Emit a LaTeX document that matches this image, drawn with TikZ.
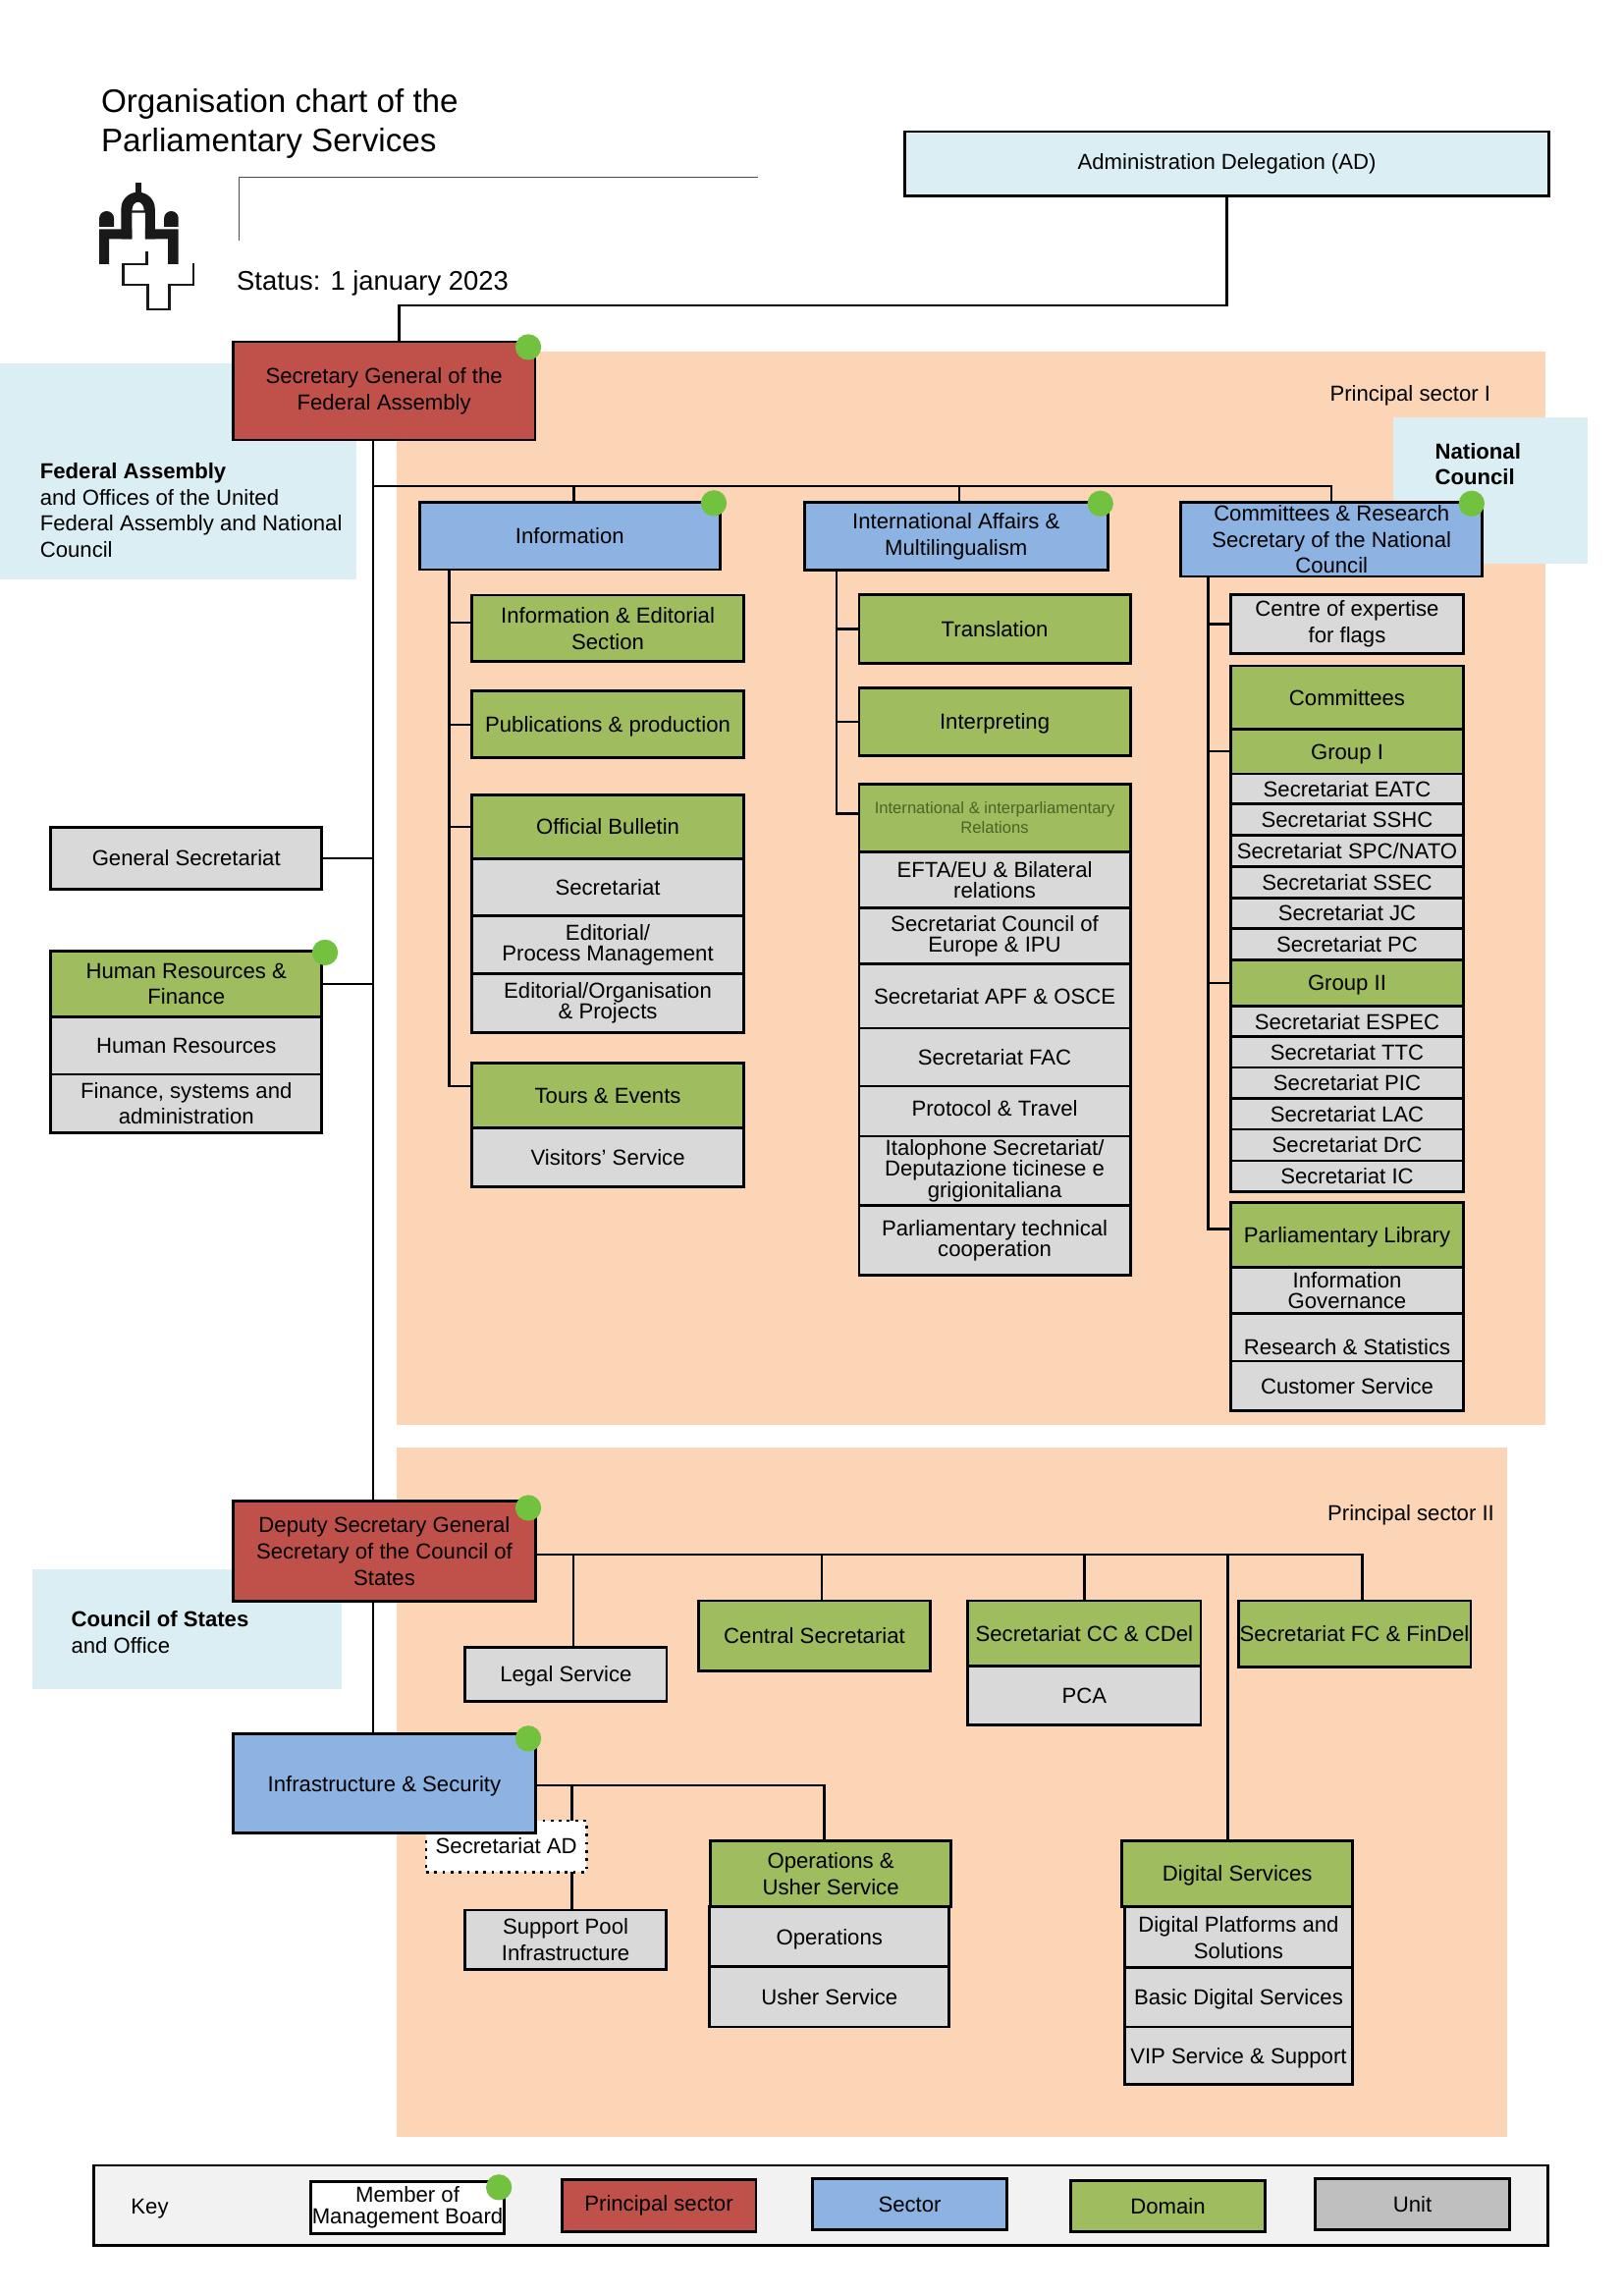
\documentclass[tikz,border=0pt]{standalone}
\usepackage{fontspec}
\setmainfont{Liberation Sans}
\definecolor{PeachClr}{HTML}{FBD5B5}
\definecolor{PaleClr}{HTML}{DAEEF3}
\definecolor{RedClr}{HTML}{C0504A}
\definecolor{BlueClr}{HTML}{8DB3E2}
\definecolor{GreenClr}{HTML}{9FBC5F}
\definecolor{GreyClr}{HTML}{D9D9D9}
\definecolor{DarkGreyClr}{HTML}{BFBFBF}
\definecolor{KeyClr}{HTML}{F2F2F2}
\definecolor{DotClr}{HTML}{72C13F}
\definecolor{SmallTxtClr}{HTML}{4F6228}
\tikzset{
  sz/.style 2 args={minimum width=#1*0.019cm,minimum height=#2*0.019cm},
  orgbox/.style={draw=black,line width=1pt,inner sep=0pt,outer sep=0pt,anchor=north west,
    align=center,font=\fontsize{8}{9.7}\selectfont},
  tight/.style={font=\fontsize{8}{7.7}\selectfont},
  oneline/.style={text height=5.8pt,text depth=0pt},
  adbox/.style={orgbox,fill=PaleClr},
  chiefbox/.style={orgbox,fill=RedClr},
  sectorbox/.style={orgbox,fill=BlueClr},
  domainbox/.style={orgbox,fill=GreenClr},
  unitbox/.style={orgbox,fill=GreyClr},
  member/.style={circle,fill=DotClr,inner sep=0pt,minimum size=17.6*0.019cm},
  caption/.style={inner sep=0pt,outer sep=0pt,anchor=north west,align=left,font=\fontsize{8}{9.7}\selectfont},
  link/.style={line width=0.9pt,black},
}
\begin{document}
\begin{tikzpicture}[x=0.019cm,y=-0.019cm]
\useasboundingbox (-0.7,0) rectangle (1104.3,1563);

\fill[PeachClr] (269.5,239) rectangle (1051.2,970);
\fill[PeachClr] (269.5,985.3) rectangle (1025.5,1454.5);
\fill[PaleClr] (-1,247.5) rectangle (242.3,394.5);
\fill[PaleClr] (947.8,284) rectangle (1080.3,384);
\fill[PaleClr] (21.2,1068.4) rectangle (232,1150);

% heading
\node[caption,font=\fontsize{12}{14.5}\selectfont] (title) at (68.2,60.5) {Organisation chart of the\\Parliamentary Services};
\node[caption,font=\fontsize{9.9}{12}\selectfont] (status) at (160.5,184) {Status: 1 january 2023};
\draw[line width=0.4pt,black!70] (162.2,163.5) -- (162.2,120.5) -- (515.7,120.5);

% logo
\begin{scope}[shift={(60.2,117)},x=0.2228*0.019cm,y=-0.2228*0.019cm]
\fill[black!90] (142,65) -- (142,33) -- (160,33) -- (160,65) -- cycle;
\fill[black!90,even odd rule] (97,205) -- (97,112) arc[start angle=180,end angle=0,x radius=51.5,y radius=-50] -- (200,205)
  -- (170,205) -- (170,125) -- (130,125) -- (130,205) -- cycle
  (130,118) arc[start angle=180,end angle=0,x radius=18.5,y radius=-26] -- cycle;
\fill[black!90] (30,168) -- (30,142) arc[start angle=180,end angle=0,x radius=22.5,y radius=-22] -- (75,168) -- cycle;
\fill[black!90] (228,168) -- (228,142) arc[start angle=180,end angle=0,x radius=22,y radius=-22] -- (272,168) -- cycle;
\fill[black!90] (30,282) -- (30,175) -- (130,175) -- (130,205) -- (60,205) -- (60,282) -- cycle;
\fill[black!90] (272,282) -- (272,175) -- (170,175) -- (170,205) -- (240,205) -- (240,282) -- cycle;
\draw[line width=1pt,black!90] (175,243) -- (175,282) -- (103,282) -- (103,345) -- (178,345) -- (178,420)
  -- (245,420) -- (245,345) -- (318,345) -- (318,280);
\end{scope}

\node[adbox,sz={438.7}{44}] (ad) at (615.3,89.6) {Administration Delegation (AD)};
\node[chiefbox,sz={205.6}{66.8}] (secgen) at (158,232.7) {Secretary General of the\\Federal Assembly};

\node[caption] (sectorone) at (904.8,262.5) {Principal sector I};
\node[caption] (fedassembly) at (26.6,315) {\textbf{Federal Assembly}\\and Offices of the United\\Federal Assembly and National\\Council};
\node[caption] (natcouncil) at (976.4,301.5) {\textbf{National}\\\textbf{Council}};

% sectors of the first part
\node[sectorbox,sz={204.5}{46.1}] (info) at (285,341.7) {Information};
\node[sectorbox,sz={206.6}{46.6}] (intl) at (547,341.7) {International Affairs \&\\Multilingualism};
\node[sectorbox,sz={205.3}{50.6}] (committees) at (803.3,341.8) {Committees \& Research\\Secretary of the National\\Council};

% information
\node[domainbox,sz={185.3}{45.3}] (infoed) at (320.5,405.1) {Information \& Editorial\\Section};
\node[domainbox,oneline,sz={185.3}{45.4}] (pub) at (320.5,470.5) {Publications \& production};
\node[domainbox,sz={185.3}{43.5}] (bulletin) at (320.5,541) {Official Bulletin};
\node[unitbox,sz={185.3}{39}] (bsec) at (320.5,584.5) {Secretariat};
\node[unitbox,tight,sz={185.3}{39.2}] (bedit) at (320.5,623.5) {Editorial/\\Process Management};
\node[unitbox,tight,sz={185.3}{40}] (borg) at (320.5,662.7) {Editorial/Organisation\\\& Projects};
\node[domainbox,sz={185.3}{44.4}] (tours) at (320.5,723.5) {Tours \& Events};
\node[unitbox,sz={185.3}{39.8}] (visitors) at (320.5,767.9) {Visitors' Service};

% international affairs
\node[domainbox,sz={184.7}{46.4}] (translation) at (584.2,405) {Translation};
\node[domainbox,oneline,sz={184.7}{46}] (interp) at (584.2,468.2) {Interpreting};
\node[domainbox,sz={184.7}{46.3},text=SmallTxtClr,font=\fontsize{6}{7.2}\selectfont] (iir) at (584.2,533.7) {International \& interparliamentary\\Relations};
\node[unitbox,tight,sz={184.7}{38.2}] (efta) at (584.2,580) {EFTA/EU \& Bilateral\\relations};
\node[unitbox,tight,sz={184.7}{37.8}] (coe) at (584.2,618.2) {Secretariat Council of\\Europe \& IPU};
\node[unitbox,sz={184.7}{43.9}] (apf) at (584.2,656) {Secretariat APF \& OSCE};
\node[unitbox,sz={184.7}{39.5}] (fac) at (584.2,699.9) {Secretariat FAC};
\node[unitbox,text height=5.8pt,text depth=2pt,sz={184.7}{34}] (protocol) at (584.2,739.4) {Protocol \& Travel};
\node[unitbox,tight,sz={184.7}{47.3}] (italo) at (584.2,773.4) {Italophone Secretariat/\\Deputazione ticinese e\\grigionitaliana};
\node[unitbox,tight,sz={184.7}{47.6}] (parltech) at (584.2,820.7) {Parliamentary technical\\cooperation};

% committees and library
\node[unitbox,sz={158.4}{40.1}] (flags) at (837.3,404.8) {Centre of expertise\\for flags};
\node[domainbox,sz={158.4}{42.9}] (comm) at (837.3,453.3) {Committees};
\node[domainbox,oneline,sz={158.4}{30.6}] (groupone) at (837.3,496.2) {Group I};
\node[unitbox,sz={158.4}{20.2}] (eatc) at (837.3,526.8) {Secretariat EATC};
\node[unitbox,sz={158.4}{21.6}] (sshc) at (837.3,547) {Secretariat SSHC};
\node[unitbox,sz={158.4}{21.4}] (spc) at (837.3,568.6) {Secretariat SPC/NATO};
\node[unitbox,sz={158.4}{21.2}] (ssec) at (837.3,590) {Secretariat SSEC};
\node[unitbox,sz={158.4}{21}] (jc) at (837.3,611.2) {Secretariat JC};
\node[unitbox,sz={158.4}{21.2}] (pc) at (837.3,632.2) {Secretariat PC};
\node[domainbox,oneline,sz={158.4}{31.5}] (grouptwo) at (837.3,653.4) {Group II};
\node[unitbox,sz={158.4}{20.9}] (espec) at (837.3,684.9) {Secretariat ESPEC};
\node[unitbox,sz={158.4}{20.8}] (ttc) at (837.3,705.8) {Secretariat TTC};
\node[unitbox,sz={158.4}{21.2}] (pic) at (837.3,726.6) {Secretariat PIC};
\node[unitbox,sz={158.4}{21}] (lac) at (837.3,747.8) {Secretariat LAC};
\node[unitbox,sz={158.4}{21.4}] (drc) at (837.3,768.8) {Secretariat DrC};
\node[unitbox,sz={158.4}{21}] (ic) at (837.3,790.2) {Secretariat IC};
\node[domainbox,oneline,sz={158.4}{44.2}] (library) at (837.3,818.4) {Parliamentary Library};
\node[unitbox,tight,sz={158.4}{31.7}] (infogov) at (837.3,862.6) {Information\\Governance};
\node[unitbox,sz={158.4}{32.3},text height=14.5pt,text depth=2pt] (research) at (837.3,894.3) {Research \& Statistics};
\node[unitbox,sz={158.4}{33.7}] (customer) at (837.3,926.6) {Customer Service};

% left column
\node[unitbox,sz={184.5}{42.4}] (gensec) at (33.9,563) {General Secretariat};
\node[domainbox,sz={184.5}{45}] (hrf) at (33.9,647.3) {Human Resources \&\\Finance};
\node[unitbox,sz={184.5}{39}] (hr) at (33.9,692.3) {Human Resources};
\node[unitbox,sz={184.5}{39.6}] (fin) at (33.9,731.3) {Finance, systems and\\administration};

% second part
\node[caption] (sectortwo) at (903.2,1024.5) {Principal sector II};
\node[caption] (costates) at (47.8,1096.5) {\textbf{Council of States}\\and Office};
\node[chiefbox,sz={206}{68}] (deputy) at (158,1022) {Deputy Secretary General\\Secretary of the Council of\\States};
\node[unitbox,oneline,sz={137.2}{37}] (legal) at (316,1121.2) {Legal Service};
\node[domainbox,sz={157.7}{47.9}] (central) at (475,1089.6) {Central Secretariat};
\node[domainbox,sz={158.6}{44.3}] (ccdel) at (658.3,1089.7) {Secretariat CC \& CDel};
\node[unitbox,sz={158.6}{40.4}] (pca) at (658.3,1134) {PCA};
\node[domainbox,sz={158.3}{45.1}] (fcdel) at (842.4,1089.7) {Secretariat FC \& FinDel};
\node[orgbox,fill=white,dotted,sz={109.1}{34.9}] (secad) at (289.5,1239.4) {Secretariat AD};
\node[sectorbox,oneline,sz={206}{67.3}] (infra) at (158,1180.5) {Infrastructure \& Security};
\node[unitbox,sz={137.4}{40.3}] (support) at (315.7,1300.3) {Support Pool\\Infrastructure};
\node[domainbox,sz={163.5}{45.1}] (opsusher) at (483.2,1252.9) {Operations \&\\Usher Service};
\node[unitbox,oneline,sz={163.1}{40.9}] (ops) at (482.5,1298) {Operations};
\node[unitbox,sz={163.1}{40.9}] (usher) at (482.5,1338.9) {Usher Service};
\node[domainbox,oneline,sz={156.9}{45.1}] (digital) at (763.3,1252.9) {Digital Services};
\node[unitbox,sz={155.2}{41.6}] (platforms) at (765,1298) {Digital Platforms and\\Solutions};
\node[unitbox,oneline,sz={155.2}{40.2}] (basic) at (765,1339.6) {Basic Digital Services};
\node[unitbox,oneline,sz={155.2}{39.2}] (vip) at (765,1379.8) {VIP Service \& Support};

% key
\node[orgbox,fill=KeyClr,sz={990.4}{54.3}] (keybox) at (62.9,1474) {};
\node[caption] (keylabel) at (88.5,1497) {Key};
\node[orgbox,fill=white,font=\fontsize{8}{8}\selectfont,sz={131.9}{35.1}] (keymember) at (210.8,1485.3) {Member of\\Management Board};
\node[chiefbox,sz={132.2}{35.3}] (keychief) at (381.8,1483.8) {Principal sector};
\node[sectorbox,sz={132.4}{34.8}] (keysector) at (552.5,1483.2) {Sector};
\node[domainbox,sz={132}{34.8}] (keydomain) at (728.5,1484.6) {Domain};
\node[orgbox,fill=DarkGreyClr,sz={132}{34.8}] (keyunit) at (895,1483.2) {Unit};

% connectors
\coordinate (adbend) at (271,208);
\coordinate (trunk) at (253.2,331);
\coordinate (jinfo) at (390.2,331);
\coordinate (jintl) at (652.3,331);
\coordinate (spinfo) at (305,388);
\coordinate (spintl) at (568.7,388);
\coordinate (spcomm) at (821.8,392);
\coordinate (dbus) at (926.7,1058.4);
\coordinate (jlegal) at (389.8,1058.4);
\coordinate (jcentral) at (558.7,1058.4);
\coordinate (jdigital) at (835.3,1058.4);
\coordinate (ibus) at (560.4,1215.5);
\coordinate (jad) at (388.8,1215.5);

\draw[link] (ad.south) |- (adbend) -- (adbend |- secgen.north);
\draw[link] (trunk |- secgen.south) -- (trunk |- deputy.north);
\draw[link] (trunk |- deputy.south) -- (trunk |- infra.north);
\draw[link] (trunk) -- (trunk -| committees.north) -- (committees.north);
\draw[link] (jinfo) -- (jinfo |- info.north);
\draw[link] (jintl) -- (jintl |- intl.north);
\draw[link] (gensec.east) -- (trunk |- gensec.east);
\draw[link] (hrf.east) -- (trunk |- hrf.east);

\draw[link] (spinfo) |- (tours.west |- 0,739.4);
\draw[link] (spinfo |- 0,424) -- (infoed.west |- 0,424);
\draw[link] (spinfo |- pub.west) -- (pub.west);
\draw[link] (spinfo |- bulletin.west) -- (bulletin.west);

\draw[link] (spintl) |- (iir.west |- 0,554);
\draw[link] (spintl |- translation.west) -- (translation.west);
\draw[link] (spintl |- interp.west) -- (interp.west);

\draw[link] (spcomm) |- (library.west |- 0,836.8);
\draw[link] (spcomm |- flags.west) -- (flags.west);
\draw[link] (spcomm |- groupone.west) -- (groupone.west);
\draw[link] (spcomm |- grouptwo.west) -- (grouptwo.west);

\draw[link] (deputy.east |- dbus) -- (dbus) -- (dbus |- fcdel.north);
\draw[link] (jlegal) -- (jlegal |- legal.north);
\draw[link] (jcentral) -- (jcentral |- central.north);
\draw[link] (ccdel.north |- dbus) -- (ccdel.north);
\draw[link] (jdigital) -- (jdigital |- digital.north);

\draw[link] (infra.east |- ibus) -- (ibus) -- (ibus |- opsusher.north);
\draw[link] (jad) -- (jad |- secad.north);
\draw[link] (jad |- secad.south) -- (jad |- support.north);

% management board
\node[member] (dotsecgen) at (359,236.3) {};
\node[member] (dotinfo) at (485.3,342.5) {};
\node[member] (dotintl) at (748.5,342.8) {};
\node[member] (dotcomm) at (1001.3,342.8) {};
\node[member] (dothrf) at (220.6,648.4) {};
\node[member] (dotdeputy) at (359,1026.5) {};
\node[member] (dotinfra) at (359,1183.5) {};
\node[member] (dotkey) at (339,1489) {};
\end{tikzpicture}
\end{document}
